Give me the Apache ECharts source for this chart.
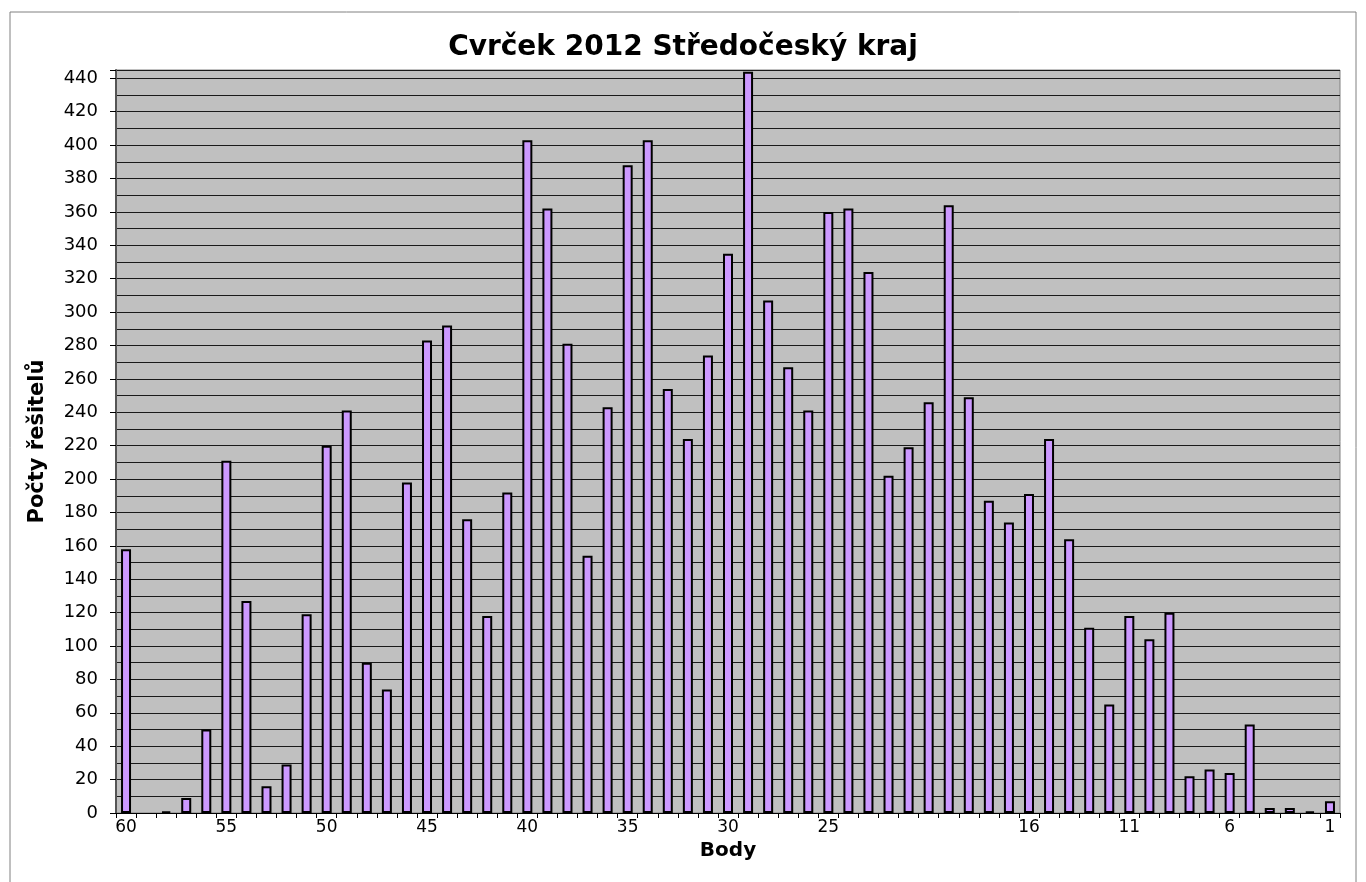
<!DOCTYPE html>
<html>
<head>
<meta charset="utf-8">
<script src="https://cdn.jsdelivr.net/npm/echarts@6/dist/echarts.min.js"></script>
<style>
  html, body { margin: 0; padding: 0; background: #fff; }
  #chart { width: 1366px; height: 882px; }
</style>
</head>
<body>
<div id="chart"></div>
<script>
// body (score) categories, 60 down to 1, one unlabelled column between 21 and 20
var bodyLabels = [
  "60", "59", "58", "57", "56", "55", "54", "53", "52", "51",
  "50", "49", "48", "47", "46", "45", "44", "43", "42", "41",
  "40", "39", "38", "37", "36", "35", "34", "33", "32", "31",
  "30", "29", "28", "27", "26", "25", "24", "23", "22", "21",
  "", "20", "19", "18", "17", "16", "15", "14", "13", "12",
  "11", "10", "9", "8", "7", "6", "5", "4", "3", "2", "1"
];
// number of solvers per category
var pocty = [
  158, 0, 1, 9, 50, 211, 127, 16, 29, 119,
  220, 241, 90, 74, 198, 283, 292, 176, 118, 192,
  403, 362, 281, 154, 243, 388, 403, 254, 224, 274,
  335, 444, 307, 267, 241, 360, 362, 324, 202, 219,
  246, 364, 249, 187, 174, 191, 224, 164, 111, 65,
  118, 104, 120, 22, 26, 24, 53, 3, 3, 1, 7
];
var yMax = 445;

var chart = echarts.init(document.getElementById("chart"));
var font = "'DejaVu Sans', sans-serif";

var option = {
  animation: false,
  backgroundColor: "#fff",
  title: {
    text: "Cvrček 2012 Středočeský kraj",
    left: "center",
    top: 29,
    textStyle: {
      fontFamily: font,
      fontWeight: "bold",
      fontSize: 28,
      color: "#000"
    }
  },
  graphic: [{
    type: "rect",
    shape: { x: 10, y: 12, width: 1346, height: 900 },
    style: { fill: "none", stroke: "#808080", lineWidth: 1 },
    silent: true
  }],
  grid: {
    left: 116,
    right: 26,
    top: 70,
    bottom: 69,
    show: true,
    backgroundColor: "#c0c0c0",
    borderColor: "#808080",
    borderWidth: 1
  },
  xAxis: {
    type: "category",
    data: bodyLabels,
    boundaryGap: true,
    name: "Body",
    nameLocation: "middle",
    nameGap: 25,
    nameTextStyle: {
      fontFamily: font,
      fontWeight: "bold",
      fontSize: 20,
      color: "#000"
    },
    axisLine: { lineStyle: { color: "#000", width: 1 } },
    axisTick: {
      show: true,
      interval: 0,
      alignWithLabel: false,
      length: 5,
      lineStyle: { color: "#000" }
    },
    axisLabel: {
      interval: 4,
      margin: 6,
      fontFamily: font,
      fontSize: 17,
      color: "#000"
    },
    splitLine: { show: false }
  },
  yAxis: [{
    type: "value",
    min: 0,
    max: yMax,
    interval: 20,
    name: "Počty řešitelů",
    nameLocation: "middle",
    nameGap: 68,
    nameTextStyle: {
      fontFamily: font,
      fontWeight: "bold",
      fontSize: 21,
      color: "#000"
    },
    axisLine: { show: true, lineStyle: { color: "#555", width: 2 } },
    axisTick: { show: true, length: 6, lineStyle: { color: "#000" } },
    axisLabel: {
      margin: 18,
      fontFamily: font,
      fontSize: 18,
      color: "#000",
      formatter: function (v) { return v % 20 === 0 ? v : ""; }
    },
    splitLine: { show: false }
  }, {
    // only the 10-step grid lines
    type: "value",
    min: 0,
    max: yMax,
    interval: 10,
    position: "left",
    axisLine: { show: false },
    axisTick: { show: false },
    axisLabel: { show: false },
    splitLine: { show: true, lineStyle: { color: "#1a1a1a", width: 1 } }
  }],
  series: [{
    type: "bar",
    yAxisIndex: 0,
    data: pocty.map(function (v) { return v === 0 ? "-" : v; }),
    barWidth: 10,
    itemStyle: {
      color: "#cc99ff",
      borderColor: "#000",
      borderWidth: 2
    }
  }]
};

chart.setOption(option);
</script>
</body>
</html>
